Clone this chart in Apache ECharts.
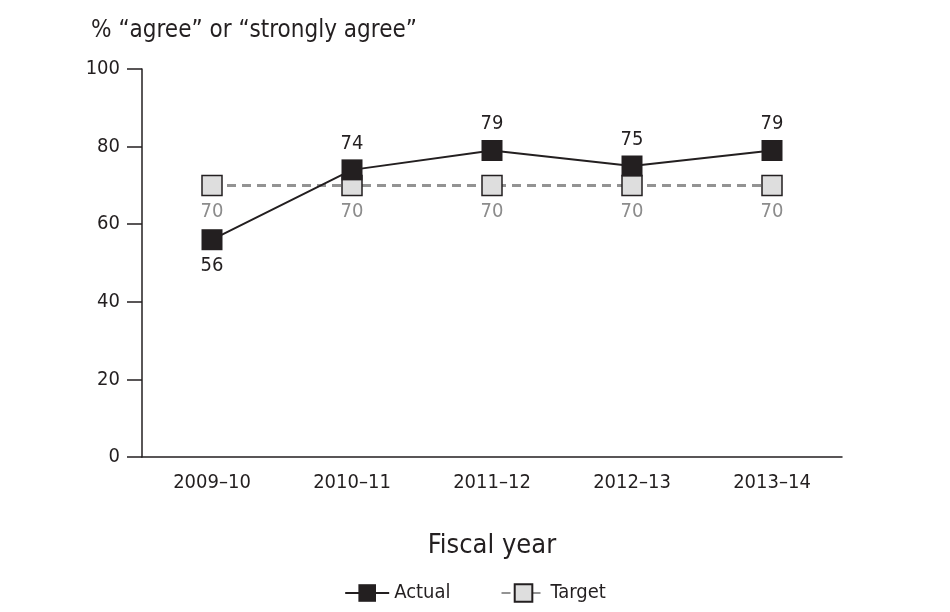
<!DOCTYPE html>
<html><head><meta charset="utf-8">
<script src="https://cdn.jsdelivr.net/npm/echarts@6/dist/echarts.min.js"></script>
<style>html,body{margin:0;padding:0;background:#fff}#c{width:950px;height:612px}</style>
</head><body><div id="c"></div>
<script>
const categories = ["2009–10", "2010–11", "2011–12", "2012–13", "2013–14"];
const actual = [56, 74, 79, 75, 79];
const target = [70, 70, 70, 70, 70];
const yTicks = [0, 20, 40, 60, 80, 100];

const FONT = '"Liberation Sans Narrow", "DejaVu Sans Condensed", "Roboto Condensed", sans-serif';
const chart = echarts.init(document.getElementById('c'));
chart.setOption({
  animation: false,
  textStyle: { fontFamily: FONT },
  title: {
    text: '% “agree” or “strongly agree”',
    left: 86, top: 14,
    textStyle: { fontFamily: FONT, fontSize: 24, fontWeight: 'normal', color: '#231f20' }
  },
  legend: {
    bottom: 4, left: 'center', itemGap: 50, itemWidth: 44, itemHeight: 22,
    textStyle: { fontFamily: FONT, fontSize: 20, color: '#231f20' },
    data: ['Actual', 'Target']
  },
  grid: { left: 142, right: 108, top: 69, bottom: 155 },
  xAxis: {
    type: 'category', data: categories, boundaryGap: true,
    name: 'Fiscal year', nameLocation: 'middle', nameGap: 75,
    nameTextStyle: { fontFamily: FONT, fontSize: 27, color: '#231f20' },
    axisLine: { lineStyle: { color: '#231f20', width: 1.5 } },
    axisTick: { alignWithLabel: true, length: 8, lineStyle: { color: '#231f20', width: 1.5 } },
    axisLabel: { fontFamily: FONT, fontSize: 20, color: '#231f20', margin: 16 }
  },
  yAxis: {
    type: 'value', min: 0, max: 100, interval: 20,
    axisLine: { show: true, lineStyle: { color: '#231f20', width: 1.5 } },
    axisTick: { show: true, length: 15, lineStyle: { color: '#231f20', width: 1.5 } },
    axisLabel: { fontFamily: FONT, fontSize: 20, color: '#231f20', margin: 22,
      formatter: v => yTicks.includes(v) ? String(v) : '' },
    splitLine: { show: false }
  },
  series: [
    {
      name: 'Target', type: 'line', data: target, z: 2,
      symbol: 'rect', symbolSize: 20,
      lineStyle: { color: '#939393', width: 3, type: [9, 6] },
      itemStyle: { color: '#dedede', borderColor: '#231f20', borderWidth: 1.5 },
      label: { show: true, position: 'bottom', distance: 6, fontFamily: FONT, fontSize: 20, color: '#8c8c8c' }
    },
    {
      name: 'Actual', type: 'line', data: actual.map((v, i) => ({
        value: v,
        label: { position: i === 0 ? 'bottom' : 'top' }
      })), z: 3,
      symbol: 'rect', symbolSize: 21,
      lineStyle: { color: '#231f20', width: 2 },
      itemStyle: { color: '#231f20' },
      label: { show: true, distance: 6, fontFamily: FONT, fontSize: 20, color: '#231f20' }
    }
  ]
});
</script></body></html>
